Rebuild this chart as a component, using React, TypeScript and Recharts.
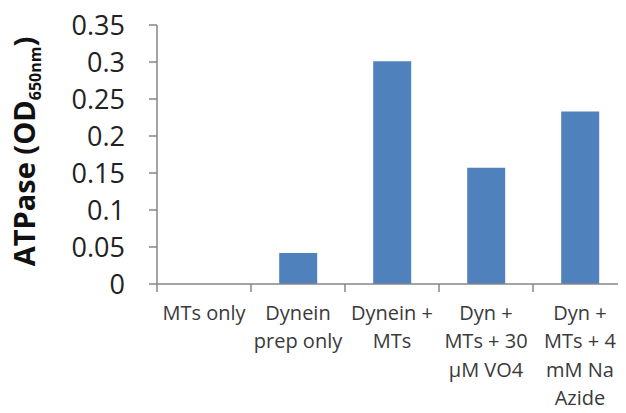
import { BarChart, Bar, XAxis, YAxis } from 'recharts';

const categories = [
  'MTs only',
  'Dynein\nprep only',
  'Dynein +\nMTs',
  'Dyn +\nMTs + 30\nµM VO4',
  'Dyn +\nMTs + 4\nmM Na\nAzide',
];
const atpase = [0, 0.042, 0.301, 0.157, 0.233];
const yTicks = [0, 0.05, 0.1, 0.15, 0.2, 0.25, 0.3, 0.35];

const data = categories.map((name, i) => ({ name, value: atpase[i] }));

const FONT = '"Open Sans", sans-serif';
const AXIS = '#868686';

const CategoryTick = (props: any) => {
  const { x, y, payload } = props;
  const half = payload?.offset ?? 47;
  const lines = String(payload.value).split('\n');
  return (
    <g>
      <line x1={x - half} y1={y} x2={x - half} y2={y + 8} stroke={AXIS} strokeWidth={1.5} />
      <text x={x} y={y + 36} textAnchor="middle" fill="#3a3a3a" fontSize={20} fontFamily={FONT}>
        {lines.map((l, i) => (
          <tspan key={i} x={x} dy={i === 0 ? 0 : 28.3}>
            {l}
          </tspan>
        ))}
      </text>
    </g>
  );
};

const YLabel = (props: any) => {
  const vb = props.viewBox || { x: 0, y: 25, width: 157, height: 259 };
  const cx = 35;
  const cy = vb.y + vb.height / 2 - 3;
  return (
    <text
      x={cx}
      y={cy}
      transform={`rotate(-90, ${cx}, ${cy})`}
      textAnchor="middle"
      fontFamily={FONT}
      fontWeight="bold"
      fontSize={29}
      fill="#111"
    >
      ATPase (OD
      <tspan dy={6} fontSize={16}>650nm</tspan>
      <tspan dy={-6}>)</tspan>
    </text>
  );
};

export default function App() {
  return (
    <div style={{ width: 626, height: 413, margin: -8, overflow: 'hidden', background: '#fff' }}>
      <BarChart
        width={630}
        height={413}
        data={data}
        margin={{ top: 25, right: 3, left: 0, bottom: 0 }}
        barCategoryGap="30%"
      >
        <XAxis
          dataKey="name"
          interval={0}
          height={129}
          tickLine={false}
          tickSize={0}
          tickMargin={0}
          axisLine={{ stroke: AXIS, strokeWidth: 1.5 }}
          tick={<CategoryTick />}
        />
        <YAxis
          width={157}
          domain={[0, 0.35]}
          ticks={yTicks}
          interval={0}
          tickSize={8}
          tickMargin={24}
          axisLine={{ stroke: AXIS, strokeWidth: 1.5 }}
          tickLine={{ stroke: AXIS, strokeWidth: 1.5 }}
          tick={{ fill: '#222', fontSize: 27, fontFamily: FONT }}
          label={<YLabel />}
        />
        <Bar dataKey="value" fill="#4f81bd" isAnimationActive={false} />
      </BarChart>
    </div>
  );
}
